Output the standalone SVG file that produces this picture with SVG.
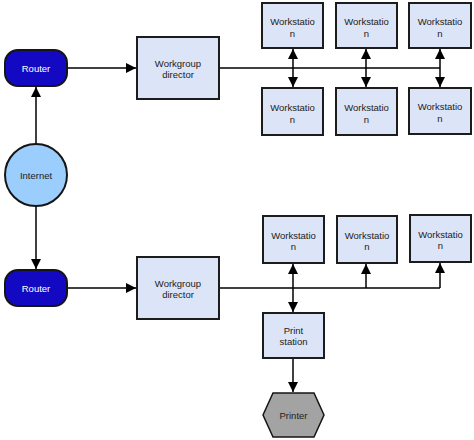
<svg xmlns="http://www.w3.org/2000/svg" width="474" height="440" viewBox="0 0 474 440">
<defs>
<style>
.box{fill:#dce4f7;stroke:#1c1c1c;stroke-width:2}
.router{fill:#1409c2;stroke:#151515;stroke-width:2}
.inet{fill:#9bcdfd;stroke:#151515;stroke-width:2}
.printer{fill:#a3a3a3;stroke:#151515;stroke-width:1.5}
.t{font-family:"Liberation Sans",Arial,sans-serif;font-size:9.5px;fill:#222;text-anchor:middle}
.tw{font-family:"Liberation Sans",Arial,sans-serif;font-size:9.5px;fill:#fff;text-anchor:middle}
.c{fill:none;stroke:#000;stroke-width:1.5}
.a{marker-end:url(#arr)}
.aa{marker-start:url(#arr);marker-end:url(#arr)}
</style>
<marker id="arr" markerUnits="userSpaceOnUse" markerWidth="10" markerHeight="10" viewBox="0 0 10 10" refX="10" refY="5" orient="auto-start-reverse">
<path d="M0,0 L10,5 L0,10 z" fill="#000"/>
</marker>
</defs>
<rect width="474" height="440" fill="#fff"/>
<g id="connectors">
<line class="c a" x1="67" y1="68" x2="136" y2="68"/>
<line class="c a" x1="36" y1="144" x2="36" y2="87"/>
<line class="c a" x1="36" y1="206" x2="36" y2="269"/>
<line class="c a" x1="67" y1="288" x2="136" y2="288"/>
<polyline class="c" points="219,68 440,68"/>
<line class="c aa" x1="293" y1="49" x2="293" y2="87"/>
<line class="c aa" x1="366" y1="49" x2="366" y2="87"/>
<line class="c aa" x1="440" y1="49" x2="440" y2="87"/>
<polyline class="c" points="219,288 440,288"/>
<line class="c aa" x1="293" y1="264" x2="293" y2="312"/>
<line class="c a" x1="366" y1="288" x2="366" y2="264"/>
<line class="c a" x1="440" y1="288" x2="440" y2="263"/>
<line class="c a" x1="293" y1="358" x2="293" y2="392"/>
</g>
<g id="router1"><rect class="router" x="5" y="50" width="62" height="36" rx="13"/><text class="tw" x="36" y="71.5">Router</text></g>
<g id="internet"><circle class="inet" cx="36" cy="175" r="31"/><text class="t" x="36" y="178.5">Internet</text></g>
<g id="router2"><rect class="router" x="5" y="270" width="62" height="36" rx="13"/><text class="tw" x="36" y="291.5">Router</text></g>
<g id="director1"><rect class="box" x="137" y="37" width="82" height="62"/><text class="t" x="178" y="66.5">Workgroup</text><text class="t" x="178" y="77.5">director</text></g>
<g id="director2"><rect class="box" x="137" y="257" width="82" height="62"/><text class="t" x="178" y="286.5">Workgroup</text><text class="t" x="178" y="297.5">director</text></g>
<g id="ws-t1"><rect class="box" x="262" y="3" width="61" height="45"/><text class="t" x="292.5" y="24.5">Workstatio</text><text class="t" x="292.5" y="36.5">n</text></g>
<g id="ws-t2"><rect class="box" x="336" y="3" width="61" height="45"/><text class="t" x="366.5" y="24.5">Workstatio</text><text class="t" x="366.5" y="36.5">n</text></g>
<g id="ws-t3"><rect class="box" x="409" y="3" width="62" height="45"/><text class="t" x="440" y="24.5">Workstatio</text><text class="t" x="440" y="36.5">n</text></g>
<g id="ws-b1"><rect class="box" x="262" y="88" width="61" height="47"/><text class="t" x="292.5" y="110.5">Workstatio</text><text class="t" x="292.5" y="122.5">n</text></g>
<g id="ws-b2"><rect class="box" x="336" y="88" width="61" height="47"/><text class="t" x="366.5" y="110.5">Workstatio</text><text class="t" x="366.5" y="122.5">n</text></g>
<g id="ws-b3"><rect class="box" x="409" y="88" width="62" height="46"/><text class="t" x="440" y="110">Workstatio</text><text class="t" x="440" y="122">n</text></g>
<g id="ws-l1"><rect class="box" x="263" y="216" width="61" height="47"/><text class="t" x="293.5" y="238.5">Workstatio</text><text class="t" x="293.5" y="250">n</text></g>
<g id="ws-l2"><rect class="box" x="337" y="216" width="60" height="47"/><text class="t" x="367" y="238.5">Workstatio</text><text class="t" x="367" y="250">n</text></g>
<g id="ws-l3"><rect class="box" x="410" y="215" width="61" height="47"/><text class="t" x="440.5" y="237.5">Workstatio</text><text class="t" x="440.5" y="249">n</text></g>
<g id="print-station"><rect class="box" x="263" y="313" width="61" height="45"/><text class="t" x="293.5" y="333.5">Print</text><text class="t" x="293.5" y="345">station</text></g>
<g id="printer"><polygon class="printer" points="273,393 314,393 324,415 314,437 273,437 263,415"/><text class="t" x="293.5" y="418.5">Printer</text></g>
</svg>
